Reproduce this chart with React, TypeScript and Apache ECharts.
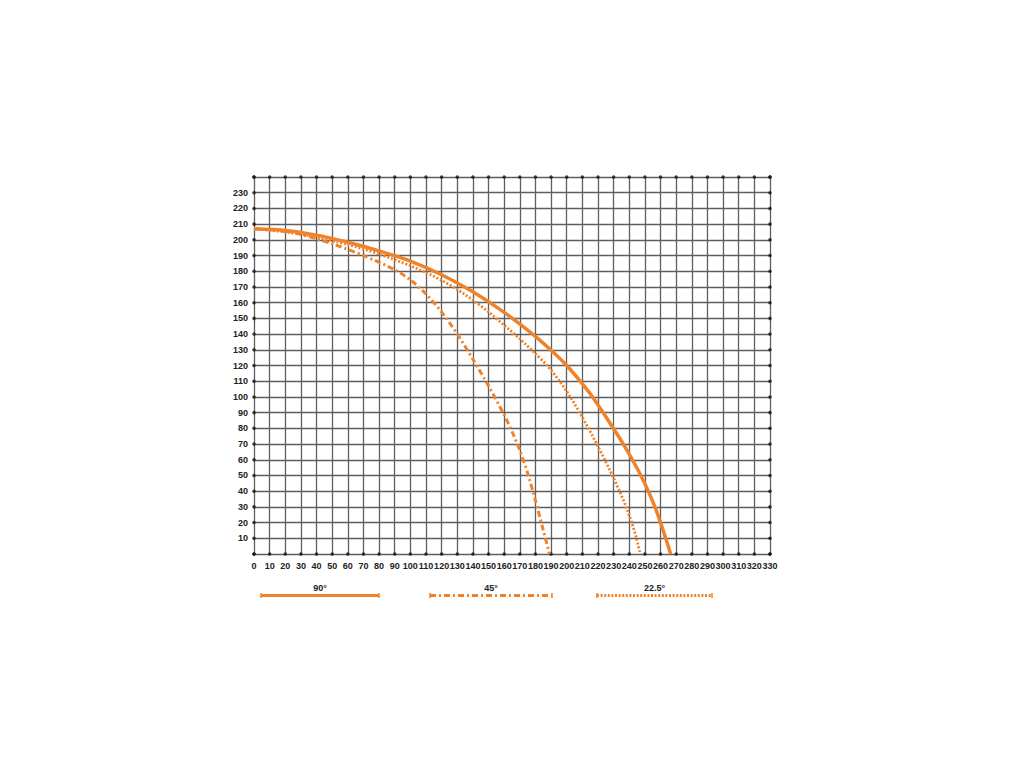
import React, { useEffect, useRef } from "react";
import * as echarts from "echarts";

const xTicks = [0, 10, 20, 30, 40, 50, 60, 70, 80, 90, 100, 110, 120, 130, 140, 150, 160, 170, 180, 190, 200, 210, 220, 230, 240, 250, 260, 270, 280, 290, 300, 310, 320, 330];
const yTicks = [0, 10, 20, 30, 40, 50, 60, 70, 80, 90, 100, 110, 120, 130, 140, 150, 160, 170, 180, 190, 200, 210, 220, 230, 240];
const yHiddenLabels = [0, 240];

const legendNames = ["90°", "45°", "22.5°"];

const curve90: [number, number][] = [
  [0, 207], [20, 206], [40, 203], [60, 198.5], [80, 193], [100, 186.5], [120, 177.8], [140, 166.9],
  [160, 153.8], [178, 140.1], [190, 129.7], [200, 120], [208.6, 110], [216.5, 100], [223.3, 90],
  [229.8, 80], [236.2, 70], [242, 60], [247.4, 50], [252.2, 40], [256.4, 30], [260, 20], [263.3, 10], [266.5, 0],
];

const curve45: [number, number][] = [
  [0, 207], [15, 206], [30, 203.5], [50, 197.5], [70, 190], [90, 181], [100, 174.5], [110, 165.5],
  [120, 154], [130, 140], [140, 124], [150, 107], [160, 88.5], [165, 78], [170, 66], [175, 51.5],
  [180, 34], [184.5, 17], [189, 0],
];

const curve225: [number, number][] = [
  [0, 207], [20, 205], [40, 201.7], [60, 197], [80, 191], [100, 183.5], [110, 179.2], [120, 174.2],
  [130, 168.4], [140, 161.7], [150, 154.1], [160, 145.6], [170, 137], [180, 127.5], [187.5, 120],
  [195.5, 110], [202.3, 100], [208.3, 90], [213.9, 80], [219.2, 70], [224.3, 60], [229.2, 50],
  [233.8, 40], [238, 30], [241.6, 20], [244.6, 10], [247, 0],
];

const ORANGE = "#F0832A";
const GRID = "#5e5e5e";
const FONT = "'Liberation Sans Narrow', 'Liberation Sans', sans-serif";

export default function App() {
  const ref = useRef<HTMLDivElement>(null);

  useEffect(() => {
    if (!ref.current) return;
    const chart = echarts.init(ref.current, undefined, { renderer: "svg" });
    const yMin = yTicks[0];
    const yMax = yTicks[yTicks.length - 1];
    const xMin = xTicks[0];
    const xMax = xTicks[xTicks.length - 1];

    const edgeDots: [number, number][] = [
      ...xTicks.map((x) => [x, yMin] as [number, number]),
      ...xTicks.map((x) => [x, yMax] as [number, number]),
      ...yTicks.map((y) => [xMin, y] as [number, number]),
      ...yTicks.map((y) => [xMax, y] as [number, number]),
    ];

    const legendItems = [
      { name: legendNames[0], x1: 261, x2: 379, dash: null as number[] | null, w: 3 },
      { name: legendNames[1], x1: 430, x2: 552, dash: [6, 3, 2, 3], w: 3 },
      { name: legendNames[2], x1: 597, x2: 712, dash: [2, 1.6], w: 3 },
    ];
    const legendY = 595.5;
    const graphic: any[] = [];
    legendItems.forEach((it) => {
      graphic.push({
        type: "line",
        shape: { x1: it.x1, y1: legendY, x2: it.x2, y2: legendY },
        style: { stroke: ORANGE, lineWidth: it.w, lineDash: it.dash || undefined },
        silent: true,
      });
      [it.x1, it.x2].forEach((x) =>
        graphic.push({
          type: "line",
          shape: { x1: x, y1: legendY - 2.5, x2: x, y2: legendY + 2.5 },
          style: { stroke: ORANGE, lineWidth: 1.5 },
          silent: true,
        })
      );
      graphic.push({
        type: "text",
        x: (it.x1 + it.x2) / 2,
        y: 588,
        style: {
          text: it.name,
          fill: "#222",
          font: `bold 9px ${FONT}`,
          textAlign: "center",
          textVerticalAlign: "middle",
        },
        silent: true,
      });
    });

    const labelStyle = {
      fontSize: 9,
      color: "#222",
      fontFamily: FONT,
      fontWeight: "bold" as const,
    };

    chart.setOption({
      animation: false,
      backgroundColor: "#ffffff",
      grid: { left: 254, top: 177, width: 516, height: 377, containLabel: false },
      xAxis: {
        type: "value",
        min: xMin,
        max: xMax,
        interval: 10,
        axisLine: { show: false },
        axisTick: { show: false },
        splitLine: { show: true, lineStyle: { color: GRID, width: 1.3 } },
        axisLabel: {
          ...labelStyle,
          margin: 7,
          showMinLabel: true,
          showMaxLabel: true,
          hideOverlap: false,
        },
      },
      yAxis: {
        type: "value",
        min: yMin,
        max: yMax,
        interval: 10,
        axisLine: { show: false },
        axisTick: { show: false },
        splitLine: { show: true, lineStyle: { color: GRID, width: 1.3 } },
        axisLabel: {
          ...labelStyle,
          margin: 6,
          showMinLabel: true,
          showMaxLabel: true,
          formatter: (v: number) => (yHiddenLabels.includes(v) ? "" : String(v)),
        },
      },
      series: [
        {
          type: "scatter",
          data: edgeDots,
          symbolSize: 3.5,
          itemStyle: { color: "#111" },
          silent: true,
          clip: false,
          z: 2,
        },
        {
          name: legendNames[0],
          type: "line",
          data: curve90,
          smooth: 0.25,
          showSymbol: false,
          lineStyle: { color: ORANGE, width: 3.5 },
          z: 3,
        },
        {
          name: legendNames[1],
          type: "line",
          data: curve45,
          smooth: 0.25,
          showSymbol: false,
          lineStyle: { color: ORANGE, width: 3, type: [6, 3, 2, 3] },
          z: 3,
        },
        {
          name: legendNames[2],
          type: "line",
          data: curve225,
          smooth: 0.25,
          showSymbol: false,
          lineStyle: { color: ORANGE, width: 2.8, type: [2, 1.8] },
          z: 3,
        },
      ],
      graphic,
    });
    return () => chart.dispose();
  }, []);

  return (
    <div
      ref={ref}
      style={{ position: "fixed", left: 0, top: 0, width: 1024, height: 768, background: "#fff" }}
    />
  );
}
